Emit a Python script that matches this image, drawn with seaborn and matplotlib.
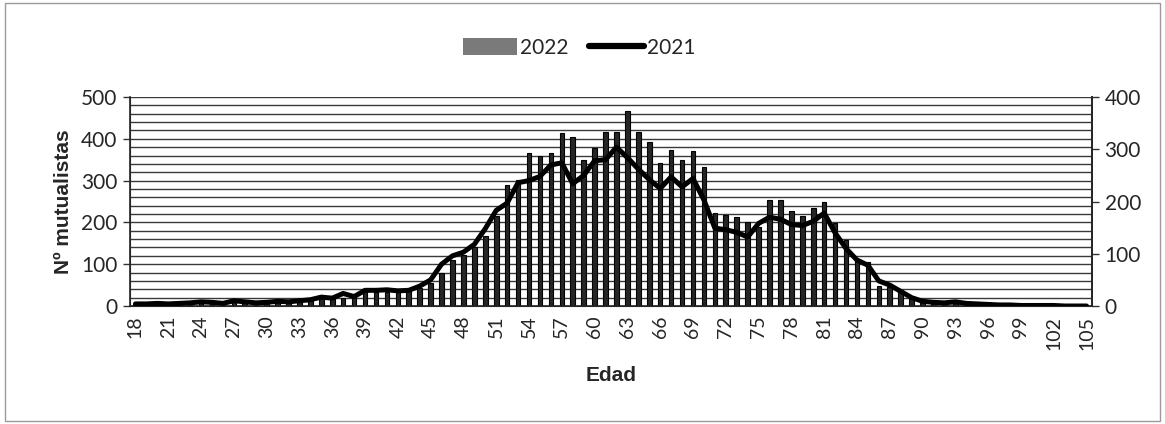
import numpy as np
import pandas as pd
import seaborn as sns
import matplotlib
matplotlib.use('Agg')
import matplotlib.pyplot as plt
from matplotlib.patches import Rectangle, Patch
from matplotlib.lines import Line2D

edades = list(range(18, 106))

mutualistas_2022 = [
    5, 6, 7, 6, 7, 8, 10, 9, 8, 12,
    10, 9, 10, 11, 12, 13, 15, 22, 25, 20,
    28, 35, 33, 34, 33, 35, 42, 55, 79, 110,
    122, 140, 168, 215, 289, 301, 366, 358, 366, 414,
    404, 349, 378, 416, 416, 466, 416, 392, 342, 373,
    349, 370, 333, 222, 217, 213, 200, 188, 254, 254,
    227, 215, 234, 249, 199, 158, 112, 106, 48, 45,
    38, 20, 15, 12, 10, 12, 8, 6, 5, 4,
    3, 2, 2, 1, 1, 1, 0, 1,
]

mutualistas_2021 = [
    4, 4, 5, 4, 5, 6, 8, 7, 5, 10,
    8, 6, 7, 9, 8, 10, 12, 17, 15, 24,
    18, 30, 30, 31, 29, 30, 38, 50, 80, 96,
    103, 118, 148, 183, 197, 236, 240, 248, 270, 274,
    234, 250, 278, 280, 304, 284, 262, 242, 225, 247,
    228, 244, 203, 149, 146, 141, 132, 158, 170, 166,
    156, 154, 162, 178, 140, 110, 88, 78, 48, 40,
    28, 16, 9, 7, 6, 8, 5, 4, 3, 2,
    2, 1, 1, 1, 1, 0, 0, 0,
]

df = pd.DataFrame({'Edad': [str(e) for e in edades],
                   '2022': mutualistas_2022,
                   '2021': mutualistas_2021})
n = len(df)

sns.set_style('white')
plt.rcParams['font.family'] = ['Lato', 'DejaVu Sans']

fig = plt.figure(figsize=(11.65, 4.24), dpi=100)
ax = fig.add_axes([130 / 1165, 1 - 306 / 424, (1092 - 130) / 1165, (306 - 97) / 424])

# horizontal grid every 20 units of the left axis
for v in range(20, 501, 20):
    ax.axhline(v, color='#3a3a3a', lw=1.0, zorder=0)

sns.barplot(data=df, x='Edad', y='2022', ax=ax, color='#262626',
            edgecolor='black', linewidth=0.8, width=0.42, saturation=1, zorder=2)
ax.set_ylim(0, 500)
ax.set_xlim(-0.5, n - 0.5)
ax.set_yticks(range(0, 501, 100))
ax.set_xticks(range(0, n, 3))
ax.set_xticklabels(df['Edad'][::3], rotation=90)
ax.set_xticks(np.arange(-0.5, n, 1), minor=True)
ax.tick_params(axis='x', which='major', length=0, pad=7, labelsize=14)
ax.tick_params(axis='x', which='minor', length=5, width=1, color='#333', direction='out')
ax.tick_params(axis='y', length=5, width=1, color='#333', labelsize=15, direction='out', left=True, pad=4)
ax.set_xlabel('Edad', fontsize=15, fontweight='bold', family='Liberation Sans', labelpad=12)
ax.set_ylabel('Nº mutualistas', fontsize=15, fontweight='bold', family='Liberation Sans', labelpad=6)
ax.spines['top'].set_visible(False)
for s in ['left', 'bottom', 'right']:
    ax.spines[s].set_color('#222')
    ax.spines[s].set_linewidth(1.2)

ax2 = ax.twinx()
sns.lineplot(x=np.arange(n), y=df['2021'], ax=ax2, color='black', lw=3.6, zorder=3)
ax2.set_ylim(0, 400)
ax2.set_yticks(range(0, 401, 100))
ax2.set_ylabel('')
ax2.tick_params(axis='y', length=5, width=1, color='#333', labelsize=15, direction='out', right=True, pad=4)
ax2.spines['top'].set_visible(False)
ax2.spines['right'].set_color('#222')
ax2.spines['right'].set_linewidth(1.2)

handles = [Patch(facecolor='#7a7a7a', edgecolor='none', label='2022'),
           Line2D([0], [0], color='black', lw=4.5, label='2021')]
fig.legend(handles=handles, loc='center', bbox_to_anchor=(0.497, 0.887), ncol=2,
           frameon=False, fontsize=15, handlelength=2.6, handleheight=0.9,
           columnspacing=1.0, handletextpad=0.15)

fig.patches.append(Rectangle((0.004, 0.008), 0.992, 0.984, transform=fig.transFigure,
                             fill=False, edgecolor='#9a9a9a', lw=1))

fig.savefig('out.png', dpi=100)
